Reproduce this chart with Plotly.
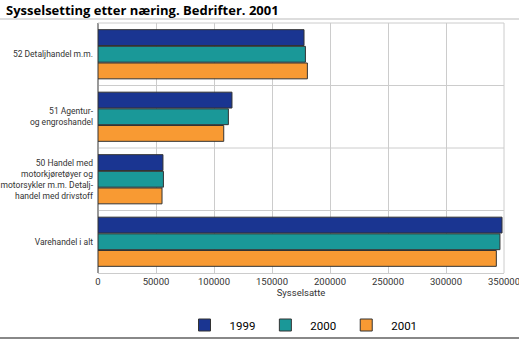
import plotly.graph_objects as go

# Employment by industry, enterprises
categories = [
    "52 Detaljhandel m.m.",
    "51 Agentur-<br>og engroshandel",
    "50 Handel med<br>motorkjøretøyer og<br>motorsykler m.m. Detalj-<br>handel med drivstoff",
    "Varehandel i alt",
]
years = ["1999", "2000", "2001"]
values_1999 = [177600, 115500, 56000, 348300]
values_2000 = [178800, 112400, 56400, 346500]
values_2001 = [180500, 108400, 55200, 343400]
x_ticks = [0, 50000, 100000, 150000, 200000, 250000, 300000, 350000]

colors = ["#1a3591", "#1a9898", "#f89a33"]
series = [values_1999, values_2000, values_2001]

FONT = "Roboto, sans-serif"
L, R, T, B = 98, 15, 23, 67
W, H = 519, 340
PW, PH = W - L - R, H - T - B

fig = go.Figure()
for name, vals, col in zip(years, series, colors):
    fig.add_trace(go.Bar(
        y=categories, x=vals, name=name, orientation="h",
        marker=dict(color=col, line=dict(color="#333333", width=1)),
    ))

fig.update_layout(
    width=W, height=H,
    margin=dict(l=L, r=R, t=T, b=B, autoexpand=False),
    paper_bgcolor="white", plot_bgcolor="white",
    barmode="group", bargap=0.2, bargroupgap=0.05,
    font=dict(family=FONT, size=10, color="#333333"),
    title=dict(
        text="<b>Sysselsetting etter næring. Bedrifter. 2001</b>",
        x=6 / W, xanchor="left", y=1 - 10 / H, yanchor="middle",
        font=dict(family="Open Sans, sans-serif", size=13, color="#000000"),
    ),
    xaxis=dict(
        range=[0, 350001], tickvals=x_ticks, ticktext=[str(v) for v in x_ticks],
        showgrid=True, gridcolor="#cccccc", gridwidth=1,
        zeroline=True, zerolinecolor="#999999",
        showline=True, linecolor="#cccccc",
        title=dict(text="Sysselsatte", standoff=2, font=dict(size=9.5)),
        tickfont=dict(size=9.5), ticks="", automargin=False,
        ticklabeloverflow="allow",
    ),
    yaxis=dict(
        autorange="reversed", showgrid=False, automargin=False,
        showline=False, tickfont=dict(size=8.5), ticks="",
        ticklabelstandoff=4,
    ),
    legend=dict(
        orientation="h", x=0.5, xanchor="center", y=-(325 - (H - B)) / PH, yanchor="middle",
        font=dict(size=11.5, color="#000000"), traceorder="normal",
        itemwidth=40, bgcolor="rgba(0,0,0,0)",
    ),
)

# separators between category bands and frame lines
for yb in [0.5, 1.5, 2.5]:
    fig.add_shape(type="line", xref="paper", yref="y", x0=0, x1=1, y0=yb, y1=yb,
                  line=dict(color="#cccccc", width=1), layer="below")
fig.add_shape(type="line", xref="paper", yref="paper", x0=1, x1=1, y0=0, y1=1,
              line=dict(color="#cccccc", width=1))
fig.add_shape(type="line", xref="paper", yref="paper", x0=0, x1=1, y0=1, y1=1,
              line=dict(color="#cccccc", width=1))
# rule under the title and at the foot of the figure
fig.add_shape(type="line", xref="paper", yref="paper", x0=-L / PW, x1=(PW + R) / PW,
              y0=(H - B - 19) / PH, y1=(H - B - 19) / PH, line=dict(color="#bbbbbb", width=1))
fig.add_shape(type="line", xref="paper", yref="paper", x0=-L / PW, x1=(PW + R) / PW,
              y0=(H - B - 338) / PH, y1=(H - B - 338) / PH, line=dict(color="#888888", width=2))

fig.write_html("out.html")
